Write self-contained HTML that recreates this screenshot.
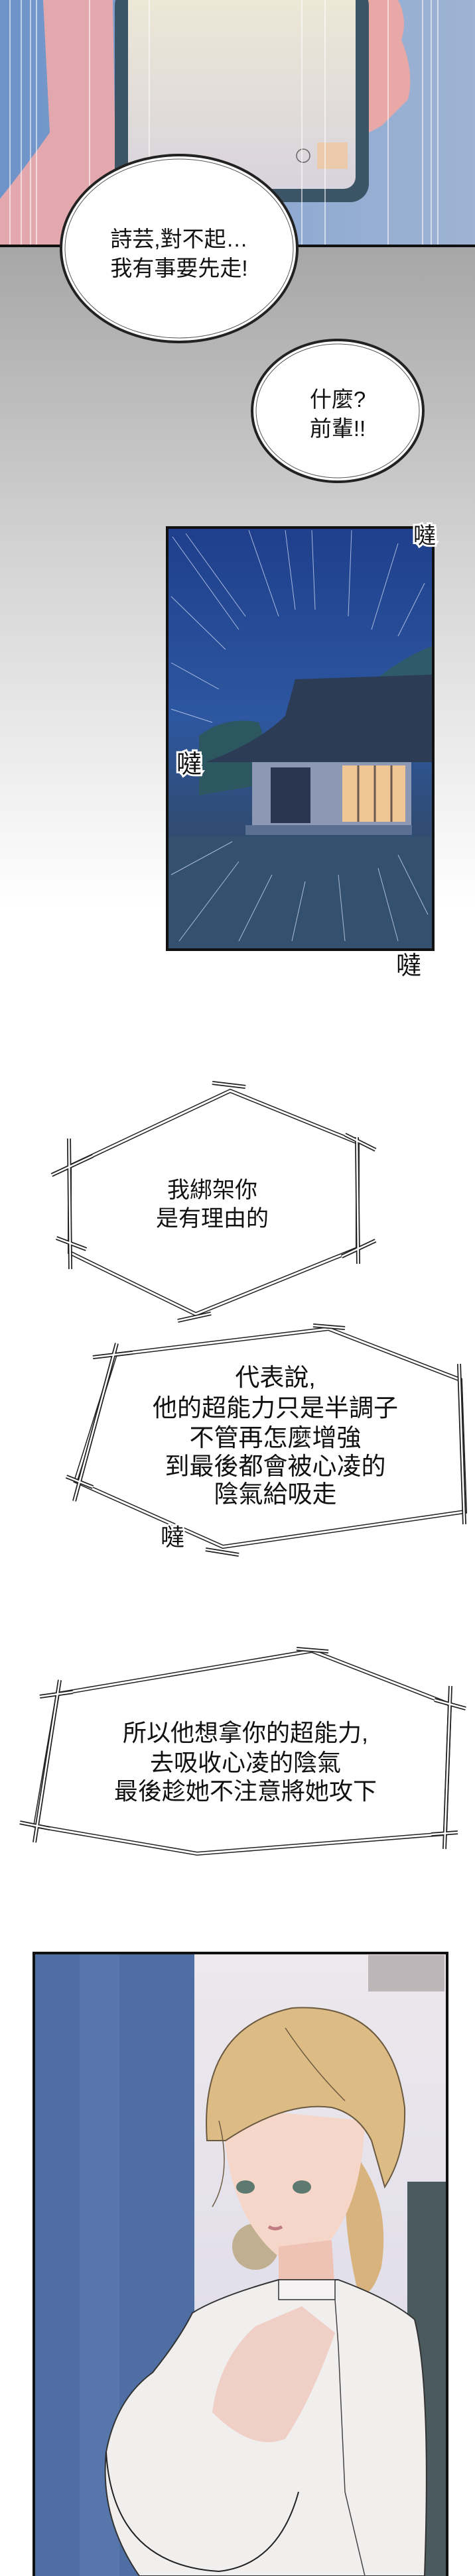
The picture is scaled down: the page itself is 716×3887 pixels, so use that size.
<!DOCTYPE html>
<html><head><meta charset="utf-8"><style>
html,body{margin:0;padding:0;background:#fff}
svg{display:block}
text{font-family:"Liberation Sans","Noto Sans CJK TC",sans-serif;fill:#111}
</style></head><body>
<svg width="716" height="3887" viewBox="0 0 716 3887" xmlns="http://www.w3.org/2000/svg">
<defs>
<linearGradient id="gbg" x1="0" y1="0" x2="0" y2="1">
<stop offset="0" stop-color="#a6a6a6"/><stop offset="0.45" stop-color="#d2d2d2"/><stop offset="1" stop-color="#ffffff"/></linearGradient>
<linearGradient id="blue1" x1="0" y1="0" x2="1" y2="0">
<stop offset="0" stop-color="#6e93c8"/><stop offset="0.5" stop-color="#8aa8d2"/><stop offset="1" stop-color="#9fb3d3"/></linearGradient>
<linearGradient id="scr" x1="0" y1="0" x2="0" y2="1">
<stop offset="0" stop-color="#eee9d6"/><stop offset="1" stop-color="#d8d3dc"/></linearGradient>
<linearGradient id="night" x1="0" y1="0" x2="0" y2="1">
<stop offset="0" stop-color="#1f3f8c"/><stop offset="0.45" stop-color="#2d57a0"/><stop offset="0.7" stop-color="#304c74"/><stop offset="1" stop-color="#2c4766"/></linearGradient>
<linearGradient id="bgR" x1="0" y1="0" x2="0" y2="1">
<stop offset="0" stop-color="#ece8ec"/><stop offset="1" stop-color="#d9d8ea"/></linearGradient>
</defs>
<rect x="0" y="371" width="716" height="1000" fill="url(#gbg)"/>

<rect x="0" y="0" width="716" height="371" fill="url(#blue1)"/>
<path d="M65,0 L170,0 L175,300 L130,371 L0,371 L0,300 Q40,250 75,200 Z" fill="#e2a8ad"/>
<path d="M540,0 L600,0 Q615,30 605,60 Q625,110 615,150 L575,190 L556,200 Z" fill="#e8a8a5"/>
<rect x="173" y="-20" width="383" height="325" rx="28" fill="#3b5566"/>
<rect x="193" y="-20" width="343" height="305" rx="18" fill="url(#scr)"/>
<rect x="478" y="215" width="46" height="40" fill="#f0c8a0" opacity="0.8"/>
<circle cx="457" cy="235" r="10" fill="none" stroke="#666" stroke-width="1.5"/>
<g stroke="#ffffff" stroke-width="1.5" opacity="0.75">
<line x1="15" y1="0" x2="15" y2="371"/><line x1="32" y1="0" x2="32" y2="371"/><line x1="46" y1="0" x2="46" y2="371"/><line x1="55" y1="0" x2="55" y2="371"/>
<line x1="135" y1="0" x2="135" y2="371"/><line x1="225" y1="0" x2="225" y2="371"/><line x1="455" y1="0" x2="455" y2="371"/><line x1="490" y1="0" x2="490" y2="371"/>
<line x1="585" y1="0" x2="585" y2="371"/><line x1="637" y1="0" x2="637" y2="371"/><line x1="650" y1="0" x2="650" y2="371"/><line x1="660" y1="0" x2="660" y2="371"/>
</g>
<rect x="0" y="369" width="716" height="4" fill="#111"/>

<ellipse cx="270" cy="375" rx="178" ry="141" fill="#fff" stroke="#222" stroke-width="4"/>
<ellipse cx="270" cy="375" rx="172" ry="135" fill="none" stroke="#555" stroke-width="1"/>
<text x="270" y="372" font-size="33" text-anchor="middle">詩芸,對不起…</text>
<text x="270" y="416" font-size="33" text-anchor="middle">我有事要先走!</text>

<ellipse cx="509" cy="620" rx="129" ry="107" fill="#fff" stroke="#222" stroke-width="4"/>
<ellipse cx="509" cy="620" rx="123" ry="101" fill="none" stroke="#555" stroke-width="1"/>
<text x="509" y="614" font-size="33" text-anchor="middle">什麼?</text>
<text x="509" y="658" font-size="33" text-anchor="middle">前輩!!</text>

<rect x="252" y="796" width="401" height="637" fill="url(#night)" stroke="#111" stroke-width="4"/>
<path d="M560,1030 Q610,990 651,975 L651,1100 L560,1100 Z" fill="#2f5a6a"/>
<path d="M300,1110 Q340,1080 390,1090 L420,1180 L300,1200 Z" fill="#2c5660"/>
<path d="M445,1025 L651,1018 L651,1150 L310,1150 Q390,1120 430,1080 Z" fill="#2c3c55"/>
<rect x="380" y="1150" width="240" height="95" fill="#8c98b4"/>
<rect x="408" y="1158" width="60" height="84" fill="#2a3550"/>
<rect x="516" y="1155" width="95" height="85" fill="#f0c695"/>
<g stroke="#6a5a50" stroke-width="3"><line x1="540" y1="1155" x2="540" y2="1240"/><line x1="565" y1="1155" x2="565" y2="1240"/><line x1="590" y1="1155" x2="590" y2="1240"/></g>
<rect x="370" y="1245" width="251" height="15" fill="#5b6f93"/>
<rect x="254" y="1262" width="397" height="169" fill="#33516e"/>
<g stroke="#dfe8ff" stroke-width="1" opacity="0.7">
<line x1="260" y1="810" x2="360" y2="950"/><line x1="280" y1="805" x2="370" y2="930"/><line x1="375" y1="800" x2="420" y2="930"/><line x1="430" y1="800" x2="445" y2="920"/>
<line x1="470" y1="800" x2="475" y2="920"/><line x1="530" y1="800" x2="525" y2="930"/><line x1="600" y1="820" x2="560" y2="950"/><line x1="640" y1="880" x2="600" y2="960"/>
<line x1="258" y1="900" x2="340" y2="980"/><line x1="258" y1="1000" x2="330" y2="1040"/><line x1="258" y1="1070" x2="320" y2="1090"/>
<line x1="270" y1="1420" x2="360" y2="1300"/><line x1="360" y1="1420" x2="410" y2="1320"/><line x1="440" y1="1420" x2="460" y2="1330"/><line x1="520" y1="1420" x2="510" y2="1320"/>
<line x1="600" y1="1420" x2="570" y2="1310"/><line x1="645" y1="1380" x2="600" y2="1290"/><line x1="258" y1="1320" x2="350" y2="1270"/>
</g>
<text x="640" y="820" font-size="34" text-anchor="middle" style="paint-order:stroke;stroke:#fff;stroke-width:6">噠</text>
<text x="285" y="1166" font-size="38" text-anchor="middle" style="paint-order:stroke;stroke:#fff;stroke-width:6">噠</text>
<text x="616" y="1470" font-size="38" text-anchor="middle">噠</text>

<polygon points="105,1760 347,1646 539,1724 539,1884 295,1983 105,1890" fill="#fff" stroke="#222" stroke-width="6"/>
<polygon points="105,1760 347,1646 539,1724 539,1884 295,1983 105,1890" fill="none" stroke="#fff" stroke-width="3"/>
<g stroke="#222" stroke-width="6"><line x1="78" y1="1773" x2="140" y2="1744"/><line x1="320" y1="1634" x2="370" y2="1640"/><line x1="520" y1="1712" x2="566" y2="1735"/><line x1="104" y1="1718" x2="106" y2="1915"/><line x1="538" y1="1716" x2="540" y2="1907"/><line x1="85" y1="1868" x2="130" y2="1885"/><line x1="268" y1="1993" x2="318" y2="1982"/><line x1="515" y1="1896" x2="566" y2="1872"/></g>
<g stroke="#fff" stroke-width="2.5"><line x1="78" y1="1773" x2="140" y2="1744"/><line x1="320" y1="1634" x2="370" y2="1640"/><line x1="520" y1="1712" x2="566" y2="1735"/><line x1="104" y1="1718" x2="106" y2="1915"/><line x1="538" y1="1716" x2="540" y2="1907"/><line x1="85" y1="1868" x2="130" y2="1885"/><line x1="268" y1="1993" x2="318" y2="1982"/><line x1="515" y1="1896" x2="566" y2="1872"/></g>
<text x="320" y="1807" font-size="34" text-anchor="middle">我綁架你</text>
<text x="320" y="1850" font-size="34" text-anchor="middle">是有理由的</text>

<polygon points="174,2044 495,2005 694,2082 701,2281 336,2334 114,2235" fill="#fff" stroke="#222" stroke-width="6"/>
<polygon points="174,2044 495,2005 694,2082 701,2281 336,2334 114,2235" fill="none" stroke="#fff" stroke-width="3"/>
<g stroke="#222" stroke-width="6"><line x1="140" y1="2048" x2="200" y2="2041"/><line x1="176" y1="2027" x2="112" y2="2265"/><line x1="472" y1="2000" x2="520" y2="2004"/><line x1="692" y1="2058" x2="700" y2="2300"/><line x1="100" y1="2228" x2="140" y2="2244"/><line x1="310" y1="2338" x2="360" y2="2346"/></g>
<g stroke="#fff" stroke-width="2.5"><line x1="140" y1="2048" x2="200" y2="2041"/><line x1="176" y1="2027" x2="112" y2="2265"/><line x1="472" y1="2000" x2="520" y2="2004"/><line x1="692" y1="2058" x2="700" y2="2300"/><line x1="100" y1="2228" x2="140" y2="2244"/><line x1="310" y1="2338" x2="360" y2="2346"/></g>
<text x="415" y="2091" font-size="37" text-anchor="middle">代表說,</text>
<text x="415" y="2137" font-size="37" text-anchor="middle">他的超能力只是半調子</text>
<text x="415" y="2182" font-size="37" text-anchor="middle">不管再怎麼增強</text>
<text x="415" y="2225" font-size="37" text-anchor="middle">到最後都會被心凌的</text>
<text x="415" y="2267" font-size="37" text-anchor="middle">陰氣給吸走</text>
<text x="260" y="2332" font-size="36" text-anchor="middle" style="paint-order:stroke;stroke:#fff;stroke-width:5">噠</text>

<polygon points="87,2556 470,2491 678,2572 671,2767 297,2797 53,2755" fill="#fff" stroke="#222" stroke-width="6"/>
<polygon points="87,2556 470,2491 678,2572 671,2767 297,2797 53,2755" fill="none" stroke="#fff" stroke-width="3"/>
<g stroke="#222" stroke-width="6"><line x1="60" y1="2560" x2="110" y2="2553"/><line x1="90" y1="2535" x2="52" y2="2780"/><line x1="447" y1="2488" x2="495" y2="2492"/><line x1="679" y1="2544" x2="670" y2="2790"/><line x1="655" y1="2565" x2="702" y2="2578"/><line x1="30" y1="2750" x2="75" y2="2759"/><line x1="650" y1="2768" x2="690" y2="2765"/></g>
<g stroke="#fff" stroke-width="2.5"><line x1="60" y1="2560" x2="110" y2="2553"/><line x1="90" y1="2535" x2="52" y2="2780"/><line x1="447" y1="2488" x2="495" y2="2492"/><line x1="679" y1="2544" x2="670" y2="2790"/><line x1="655" y1="2565" x2="702" y2="2578"/><line x1="30" y1="2750" x2="75" y2="2759"/><line x1="650" y1="2768" x2="690" y2="2765"/></g>
<text x="370" y="2627" font-size="36" text-anchor="middle">所以他想拿你的超能力,</text>
<text x="370" y="2672" font-size="36" text-anchor="middle">去吸收心凌的陰氣</text>
<text x="370" y="2715" font-size="36" text-anchor="middle">最後趁她不注意將她攻下</text>

<rect x="51" y="2947" width="623" height="950" fill="url(#bgR)" stroke="#111" stroke-width="4"/>
<rect x="53" y="2949" width="240" height="938" fill="#4f6ea3"/>
<rect x="120" y="2949" width="60" height="938" fill="#5d7bb0" opacity="0.6"/>
<rect x="614" y="3292" width="58" height="595" fill="#4a5a5e"/>
<rect x="555" y="2950" width="115" height="55" fill="#bcb6b8"/>
<circle cx="385" cy="3390" r="35" fill="#b6a27a" opacity="0.8"/>
<path d="M535,3250 Q590,3320 575,3420 Q560,3470 540,3460 Q520,3380 520,3300 Z" fill="#d8b37d"/>
<path d="M335,3180 Q340,3340 420,3405 Q450,3420 480,3400 Q545,3340 550,3200 Z" fill="#f6d6c8"/>
<path d="M420,3390 L420,3460 L505,3460 L500,3380 Z" fill="#eec3b6"/>
<path d="M312,3230 Q300,3060 440,3030 Q590,3020 610,3180 Q612,3250 580,3300 L560,3230 Q540,3190 500,3180 Q430,3170 340,3230 Z" fill="#dcbb85" stroke="#6b5a40" stroke-width="2"/>
<g stroke="#6b5a40" stroke-width="1.5" fill="none"><path d="M330,3200 Q350,3280 320,3330"/><path d="M430,3060 Q470,3120 520,3170"/></g>
<ellipse cx="370" cy="3300" rx="14" ry="10" fill="#5e7a70"/>
<ellipse cx="455" cy="3300" rx="14" ry="10" fill="#5e7a70"/>
<path d="M405,3360 Q415,3366 425,3360" stroke="#c07c80" stroke-width="5" fill="none"/>
<path d="M290,3490 Q330,3465 420,3440 L510,3440 Q590,3470 625,3500 Q650,3600 640,3887 L210,3887 Q150,3800 160,3700 Q175,3620 230,3580 Q270,3530 290,3490 Z" fill="#f1eeee" stroke="#333" stroke-width="2"/>
<path d="M385,3510 L455,3480 L505,3520 Q470,3620 430,3680 Q380,3700 320,3640 Q330,3560 385,3510 Z" fill="#f0cfc6"/>
<path d="M420,3440 L420,3470 L505,3470 L505,3440 Z" fill="#f4f2f2" stroke="#333" stroke-width="1.5"/>
<path d="M160,3700 Q170,3870 330,3880 Q420,3870 450,3760" fill="none" stroke="#222" stroke-width="2"/>
<path d="M505,3470 L510,3540 L520,3760 L550,3887" fill="none" stroke="#444" stroke-width="1.5"/>
</svg>
</body></html>
